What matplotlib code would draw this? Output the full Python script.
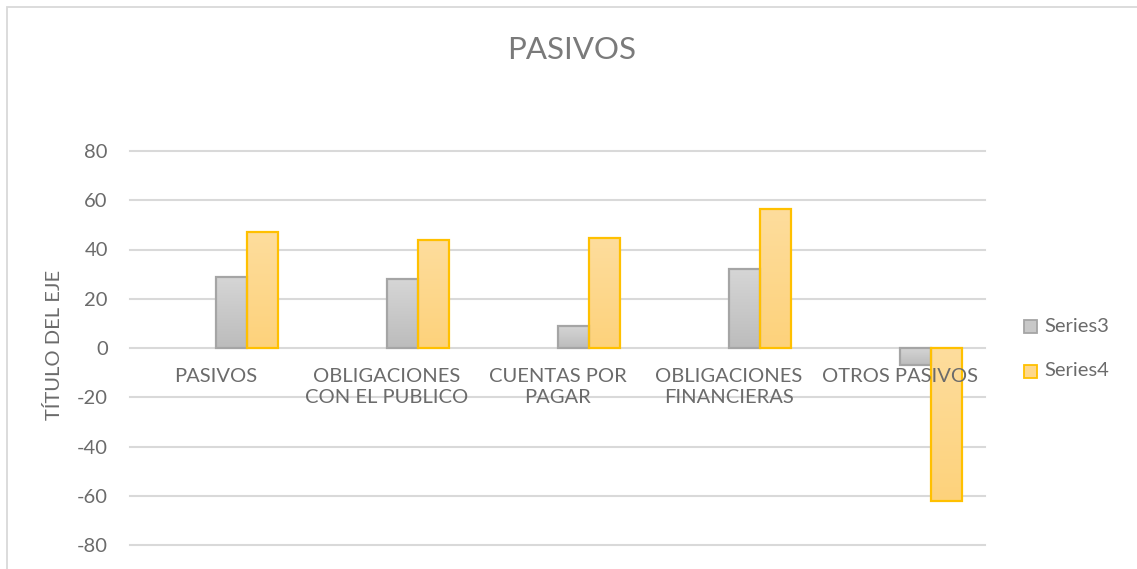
import numpy as np
import matplotlib
matplotlib.use("Agg")
import matplotlib.pyplot as plt
from matplotlib.patches import Rectangle
from matplotlib.colors import LinearSegmentedColormap
import matplotlib.transforms as mtransforms

plt.rcParams['font.family'] = ['Lato', 'DejaVu Sans']

# Data
categories = ["PASIVOS", "OBLIGACIONES\nCON EL PUBLICO", "CUENTAS POR\nPAGAR",
              "OBLIGACIONES\nFINANCIERAS", "OTROS PASIVOS"]
series3 = [29, 28, 9, 32, -7]
series4 = [47, 44, 44.6, 56.5, -62]
series_names = ["Series3", "Series4"]
yticks = [-80, -60, -40, -20, 0, 20, 40, 60, 80]
title = "PASIVOS"
ytitle = "TÍTULO DEL EJE"

W, H = 1137, 569
fig = plt.figure(figsize=(W / 100, H / 100), dpi=100)

# chart area border (only top and left edges fall inside the image)
fig.add_artist(Rectangle((6.5 / W, -0.1), 1.2, 1.1 - 7 / H, transform=fig.transFigure,
                         fill=False, edgecolor="#d9d9d9", linewidth=1.3))

ax = fig.add_axes([130 / W, (H - 545) / H, (985 - 130) / W, (545 - 151) / H])
ax.set_xlim(-0.5, len(categories) - 0.5)
ax.set_ylim(-80, 80)
for s in ax.spines.values():
    s.set_visible(False)

# horizontal gridlines
for t in yticks:
    ax.axhline(t, color="#d9d9d9", linewidth=1.5, zorder=1, clip_on=False)

ax.set_yticks(yticks)
ax.set_yticklabels([str(t) for t in yticks])
ax.tick_params(axis="y", length=0, pad=16, labelsize=14.5, labelcolor="#6b6b6b")
ax.set_xticks([])

# clustered bars: four slots per category, the last two hold the series
w = 31 / 171
x = np.arange(len(categories))

gray_cmap = LinearSegmentedColormap.from_list("g", ["#bcbcbc", "#d6d6d6"])
gold_cmap = LinearSegmentedColormap.from_list("y", ["#fdd27b", "#fedd9d"])


def gradient_bars(xs, vals, cmap, edge):
    bars = ax.bar(xs, vals, width=w, color="none", edgecolor=edge,
                  linewidth=1.6, zorder=4)
    grad = np.linspace(0, 1, 256).reshape(-1, 1)
    for b in bars:
        x0, y0 = b.get_x(), b.get_y()
        hgt = b.get_height()
        lo, hi = min(y0, y0 + hgt), max(y0, y0 + hgt)
        im = ax.imshow(grad, cmap=cmap, origin="lower", aspect="auto",
                       extent=[x0, x0 + b.get_width(), lo, hi], zorder=3)
        clip = Rectangle((x0, y0), b.get_width(), hgt, transform=ax.transData)
        im.set_clip_path(clip)
    return bars


gradient_bars(x + 0.5 * w, series3, gray_cmap, "#a5a5a5")
gradient_bars(x + 1.5 * w, series4, gold_cmap, "#ffc000")
ax.set_xlim(-0.5, len(categories) - 0.5)
ax.set_ylim(-80, 80)

# category labels hang just below the zero line, drawn over the bars
off = mtransforms.offset_copy(ax.transData, fig=fig, x=0, y=-20, units="dots")
for xi, lab in zip(x, categories):
    ax.text(xi, 0, lab, transform=off, ha="center", va="top", fontsize=14.5,
            color="#6b6b6b", linespacing=1.3, zorder=6)

# titles
fig.text(572 / W, 1 - 50 / H, title, ha="center", va="center", fontsize=22.5,
         color="#7a7a7a")
fig.text(54 / W, 1 - 345 / H, ytitle, ha="center", va="center", rotation=90,
         fontsize=14.5, color="#6b6b6b")

# legend
leg_items = [(series_names[0], "#c8c8c8", "#a5a5a5", 326),
             (series_names[1], "#fed88c", "#ffc000", 371)]
for name, fc, ec, yc in leg_items:
    fig.add_artist(Rectangle((1024 / W, 1 - (yc + 6.5) / H), 13 / W, 13 / H,
                             transform=fig.transFigure, facecolor=fc,
                             edgecolor=ec, linewidth=1.3))
    fig.text(1044 / W, 1 - yc / H, name, ha="left", va="center",
             fontsize=14.5, color="#6b6b6b")

fig.savefig("out.png", dpi=100)
